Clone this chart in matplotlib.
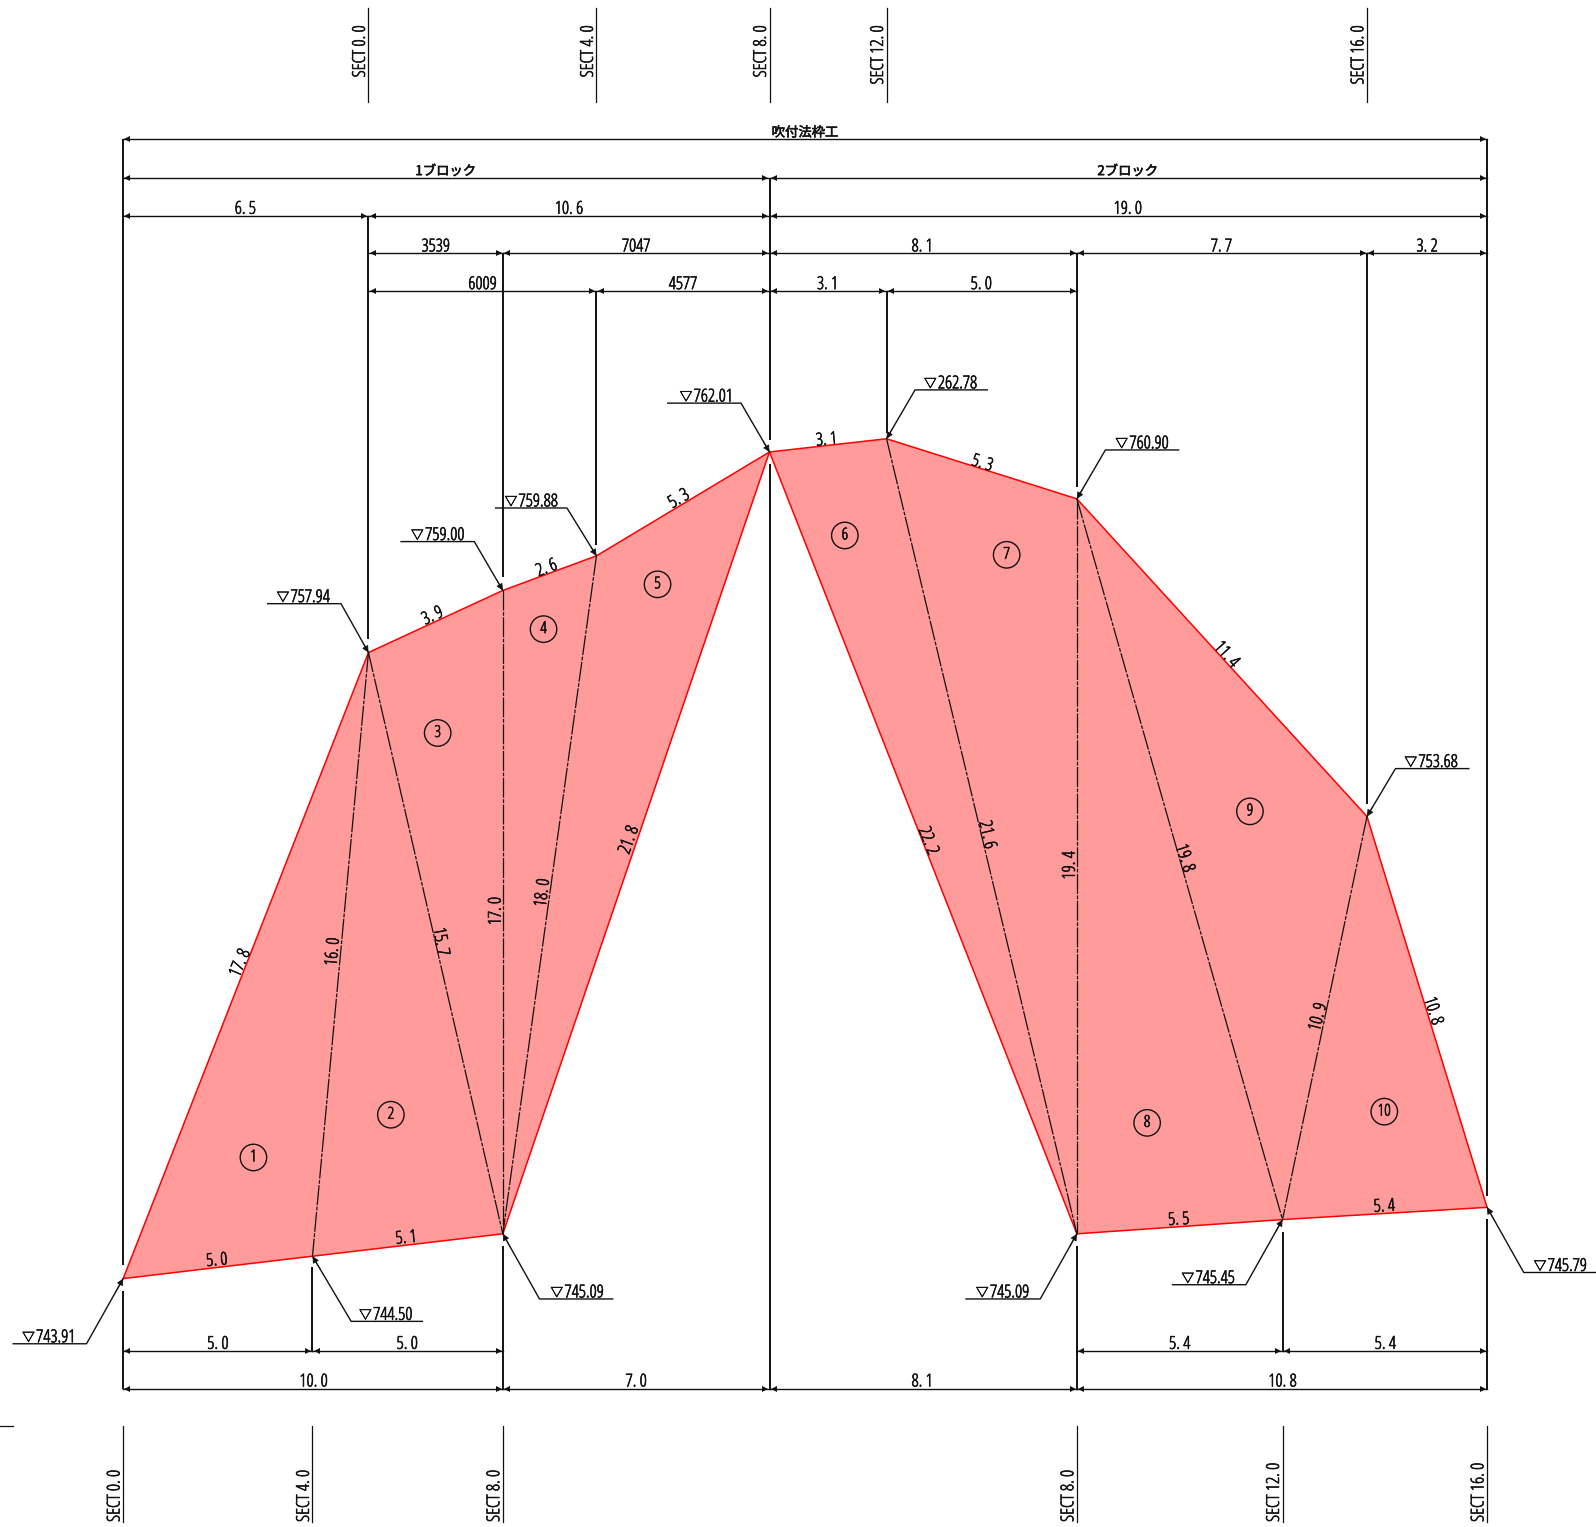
import matplotlib
matplotlib.use("Agg")
import matplotlib.pyplot as plt
import matplotlib.patheffects as pe
from matplotlib.patches import Circle, Polygon

plt.rcParams['font.family'] = ['Open Sans', 'Noto Sans CJK JP', 'DejaVu Sans']
plt.rcParams['font.stretch'] = 'condensed'

# drawing stations (drawing units)
left_block = [(121, 1256), (362, 641), (494, 580), (586, 546), (756, 444), (494, 1212), (307, 1234)]
right_block = [(756, 444), (871, 431), (1058, 490), (1343, 802), (1461, 1186), (1260, 1198), (1058, 1212)]
inner_lines = [((362, 641), (307, 1234)), ((362, 641), (494, 1212)), ((494, 580), (494, 1212)),
               ((586, 546), (494, 1212)), ((871, 431), (1058, 1212)), ((1058, 490), (1058, 1212)),
               ((1058, 490), (1260, 1198)), ((1343, 802), (1260, 1198))]
extension_lines = [(121, 137, 1243), (121, 1268, 1364), (362, 212, 628), (494, 249, 567), (494, 1224, 1364),
                   (586, 286, 535), (756, 175, 432), (756, 456, 1364), (871, 286, 425), (1058, 249, 478),
                   (1058, 1224, 1364), (1343, 249, 790), (1461, 137, 1175),
                   (1461, 1197, 1364), (307, 1245, 1327), (1260, 1210, 1327)]
dimensions = [
    (137, 121, 1461, "吹付法枠工", 791), (175, 121, 756, "1ブロック", 438), (175, 756, 1461, "2ブロック", 1108),
    (212, 121, 362, "6.5", 241), (212, 362, 756, "10.6", 559), (212, 756, 1461, "19.0", 1108),
    (249, 362, 494, "3539", 428), (249, 494, 756, "7047", 625), (249, 756, 1058, "8.1", 906),
    (249, 1058, 1343, "7.7", 1200), (249, 1343, 1461, "3.2", 1402),
    (286, 362, 586, "6009", 474), (286, 586, 756, "4577", 671), (286, 756, 871, "3.1", 813), (286, 871, 1058, "5.0", 964),
    (1327, 121, 307, "5.0", 214), (1327, 307, 494, "5.0", 400), (1327, 1058, 1260, "5.4", 1159), (1327, 1260, 1461, "5.4", 1361),
    (1364, 121, 494, "10.0", 308), (1364, 494, 756, "7.0", 625), (1364, 756, 1058, "8.1", 906), (1364, 1058, 1461, "10.8", 1260),
]
top_sections = [(362, "SECT 0.0", 76), (586, "SECT 4.0", 76), (756, "SECT 8.0", 76), (871, "SECT 12.0", 83), (1343, "SECT 16.0", 83)]
bottom_sections = [(121, "SECT 0.0"), (307, "SECT 4.0"), (494, "SECT 8.0"), (1058, "SECT 8.0"), (1260, "SECT 12.0"), (1461, "SECT 16.0")]
levels = [
    ("743.91", (121, 1256), (85, 1320), 13, 48), ("744.50", (307, 1234), (345, 1298), 415, 379),
    ("745.09", (494, 1212), (530, 1276), 602, 567), ("745.09", (1058, 1212), (1022, 1276), 949, 985),
    ("745.45", (1260, 1198), (1224, 1262), 1152, 1187), ("745.79", (1461, 1186), (1497, 1250), 1568, 1533),
    ("757.94", (362, 641), (335, 593), 263, 298), ("759.00", (494, 580), (466, 532), 394, 430),
    ("759.88", (586, 546), (557, 499), 487, 522), ("762.01", (756, 444), (728, 396), 656, 694),
    ("262.78", (871, 431), (899, 383), 970, 934), ("760.90", (1058, 490), (1086, 442), 1158, 1122),
    ("753.68", (1343, 802), (1371, 755), 1443, 1406),
]
lengths = [("17.8", 236, 946, 67), ("16.0", 327, 935, 85), ("15.7", 433, 925, -80), ("17.0", 487, 895, 90),
           ("18.0", 533, 877, 83), ("21.8", 618, 825, 70), ("5.3", 667, 490, 31), ("2.6", 537, 558, 21),
           ("3.9", 425, 605, 25), ("3.1", 812, 432, 5), ("5.3", 965, 455, -17), ("11.4", 1205, 643, -48),
           ("10.8", 1408, 993, -72), ("10.9", 1295, 999, 76), ("19.8", 1164, 843, -72), ("19.4", 1051, 850, 90),
           ("21.6", 970, 820, -77), ("22.2", 912, 826, -68), ("5.0", 213, 1238, 5), ("5.1", 399, 1216, 6),
           ("5.5", 1158, 1198, 3), ("5.4", 1360, 1185, 3)]
panels = [("1", 249, 1137), ("2", 384, 1095), ("3", 430, 720), ("4", 534, 618), ("5", 646, 574),
          ("6", 830, 526), ("7", 989, 545), ("8", 1127, 1103), ("9", 1228, 797), ("10", 1360, 1092)]

def spaced(s):
    return s.replace(".", ". ")

INK = "#111111"
FS = 12.8
JP = {"fontsize": 9.6, "family": ["Noto Sans CJK JP", "DejaVu Sans"]}
fig = plt.figure(figsize=(15.96, 15.27), dpi=100)
ax = fig.add_axes([0, 0, 1, 1])
ax.set_xlim(0, 1568)
ax.set_ylim(1500, 0)
ax.axis("off")

for block in (left_block, right_block):
    ax.add_patch(Polygon(block, closed=True, fc="#ff9b9b", ec="#ff0000", lw=1.1, zorder=1))
for a, b in inner_lines:
    ax.plot([a[0], b[0]], [a[1], b[1]], color=INK, lw=0.9, dashes=(16, 1.2, 3, 1.2), zorder=2)
for x, y0, y1 in extension_lines:
    ax.plot([x, x], [y0, y1], color=INK, lw=1.4, solid_capstyle="butt", zorder=2)
for y, x0, x1, label, tx in dimensions:
    ax.plot([x0, x1], [y, y], color=INK, lw=1.0, zorder=3)
    ax.plot([x0 + 4], [y], marker="<", ms=4, color=INK, mew=0, zorder=3)
    ax.plot([x1 - 4], [y], marker=">", ms=4, color=INK, mew=0, zorder=3)
    style = JP if not label[-1].isdigit() else {"fontsize": FS}
    ax.text(tx, y - 3 if style is JP else y - 2, spaced(label), ha="center", va="baseline", color=INK, **style)
for x, label, start in top_sections:
    ax.plot([x, x], [8, 100], color=INK, lw=0.9, zorder=2)
    ax.text(x - 3.5, start, spaced(label), rotation=90, rotation_mode="anchor", ha="left", va="baseline",
            fontsize=FS, color=INK)
for x, label in bottom_sections:
    ax.plot([x, x], [1401, 1495], color=INK, lw=0.9, zorder=2)
    ax.text(x - 3.5, 1495, spaced(label), rotation=90, rotation_mode="anchor", ha="left", va="baseline",
            fontsize=FS, color=INK)
ax.plot([0, 13], [1401, 1401], color=INK, lw=0.9)
for label, tip, elbow, end_x, tx in levels:
    ax.plot([tip[0], elbow[0], end_x], [tip[1], elbow[1], elbow[1]], color=INK, lw=1.0, zorder=4)
    ax.annotate("", xy=tip, xytext=(tip[0] + (elbow[0] - tip[0]) * 0.2, tip[1] + (elbow[1] - tip[1]) * 0.2),
                arrowprops=dict(arrowstyle="-|>", color=INK, lw=0.6, mutation_scale=10, shrinkA=0, shrinkB=0), zorder=4)
    ax.text(tx + 26, elbow[1] - 1.5, label, ha="right", va="baseline", fontsize=FS, color=INK)
    ax.text(tx - 20, elbow[1] - 2.5, "▽", ha="center", va="baseline", color=INK, fontsize=9,
            family=["Noto Sans CJK JP", "DejaVu Sans"])
for label, x, y, rot in lengths:
    ax.text(x, y, spaced(label), rotation=rot, rotation_mode="anchor", ha="center", va="center",
            fontsize=FS, color=INK, zorder=5)
for label, x, y in panels:
    ax.add_patch(Circle((x, y), 13, fc="none", ec=INK, lw=1.0, zorder=5))
    ax.text(x, y, label, ha="center", va="center", fontsize=FS - 1, color=INK, zorder=5)

for t in ax.texts:
    if t.get_text():
        t.set_path_effects([pe.withStroke(linewidth=0.45, foreground=INK)])

fig.savefig("out.png", dpi=100)
